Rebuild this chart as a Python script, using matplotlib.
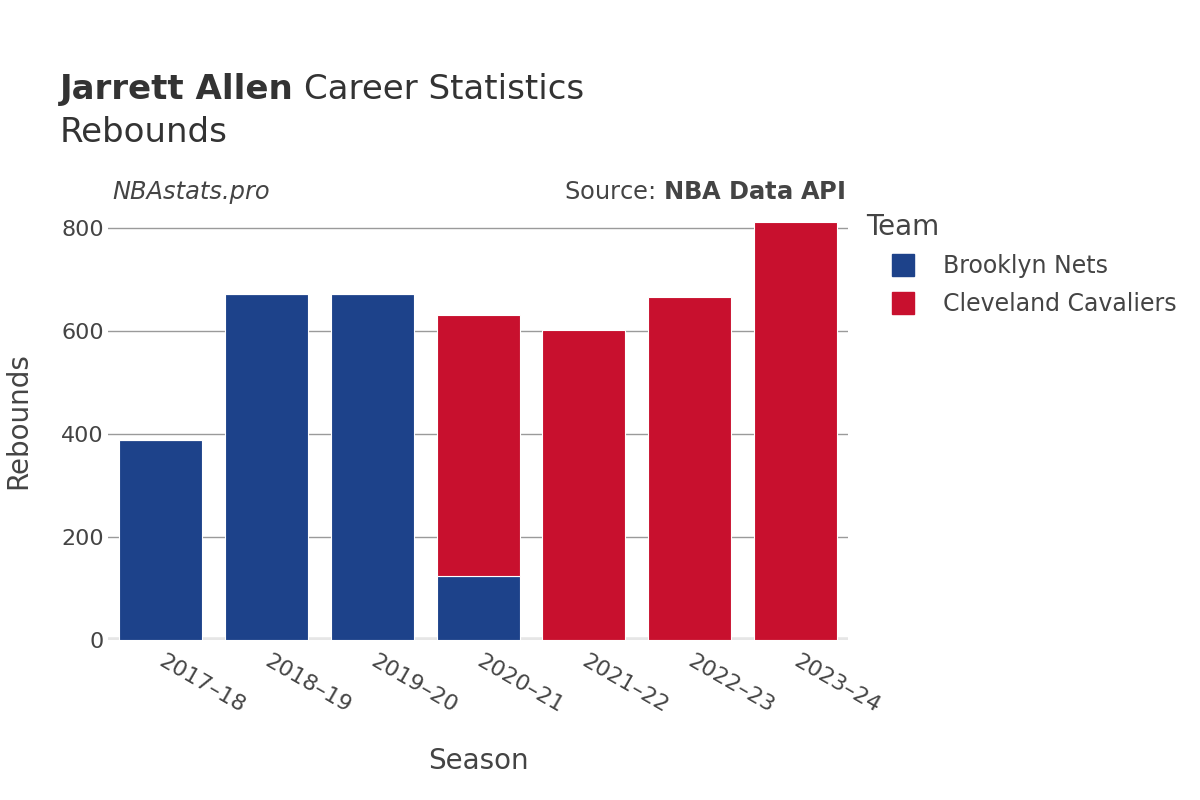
import matplotlib
matplotlib.use('Agg')
import matplotlib.pyplot as plt
import numpy as np
from matplotlib.lines import Line2D

plt.rcParams['font.family'] = 'DejaVu Sans'

seasons = ['2017–18', '2018–19', '2019–20', '2020–21', '2021–22', '2022–23', '2023–24']
nets = [388, 672, 671, 125, 0, 0, 0]
cavs = [0, 0, 0, 506, 602, 666, 811]
teams = ['Brooklyn Nets', 'Cleveland Cavaliers']
team_colors = ['#1d428a', '#c8102e']

TXT = '#444444'

fig = plt.figure(figsize=(12, 8), dpi=100)
ax = fig.add_axes([0.09, 0.2, 0.6167, 0.5475])

x = np.arange(len(seasons))
ax.bar(x, nets, width=0.785, color=team_colors[0], edgecolor='white', linewidth=0.8, zorder=3)
ax.bar(x, cavs, width=0.785, bottom=nets, color=team_colors[1], edgecolor='white', linewidth=0.8, zorder=3)

ax.set_xlim(-0.5, len(seasons) - 0.5)
ax.set_ylim(0, 850)
ax.set_yticks([0, 200, 400, 600, 800])
ax.grid(axis='y', color='#9a9a9a', linewidth=1, zorder=0)
ax.axhline(0, color='#e6e6e6', linewidth=4, zorder=2)
for s in ax.spines.values():
    s.set_visible(False)
ax.tick_params(axis='both', length=0, labelsize=16, labelcolor=TXT)
ax.tick_params(axis='y', pad=3)
ax.set_xticks(x)
ax.set_xticklabels(seasons, rotation=-30, ha='left', va='center', rotation_mode='anchor')
for lbl in ax.get_xticklabels():
    lbl.set_y(-0.035)

ax.set_xlabel('Season', fontsize=20, color=TXT)
ax.set_ylabel('Rebounds', fontsize=20, color=TXT)
ax.xaxis.set_label_coords(0.5, -0.244)
ax.yaxis.set_label_coords(-0.102, 0.5)

t1 = fig.text(0.05, 0.888, 'Jarrett Allen', fontsize=24.5, fontweight='bold', color='#333333', va='center')
fig.canvas.draw()
bb = t1.get_window_extent()
fig.text((bb.x1 + 10) / 1200, 0.888, 'Career Statistics', fontsize=24.5, color='#333333', va='center')
fig.text(0.05, 0.835, 'Rebounds', fontsize=24.5, color='#333333', va='center')
fig.text(0.094, 0.76, 'NBAstats.pro', fontsize=17.4, style='italic', color=TXT, va='center')
fig.text(0.7042, 0.76, 'Source: $\\bf{NBA\\ Data\\ API}$', fontsize=17.4, color=TXT, va='center', ha='right')

# legend: title as separate text so it sits left of the swatches
fig.text(866 / 1200, 1 - 227 / 800, 'Team', fontsize=20, color=TXT, va='center', ha='left')
handles = [Line2D([0], [0], marker='s', linestyle='none', markersize=16,
                  markerfacecolor=c, markeredgecolor=c) for c in team_colors]
leg = fig.legend(handles, teams, loc='upper left', bbox_to_anchor=(0.7327, 0.6825),
                 frameon=False, fontsize=17, handletextpad=0.72, labelspacing=0.61,
                 borderaxespad=0, borderpad=0)
for t in leg.get_texts():
    t.set_color(TXT)

fig.savefig('out.png', dpi=100, facecolor='white')
